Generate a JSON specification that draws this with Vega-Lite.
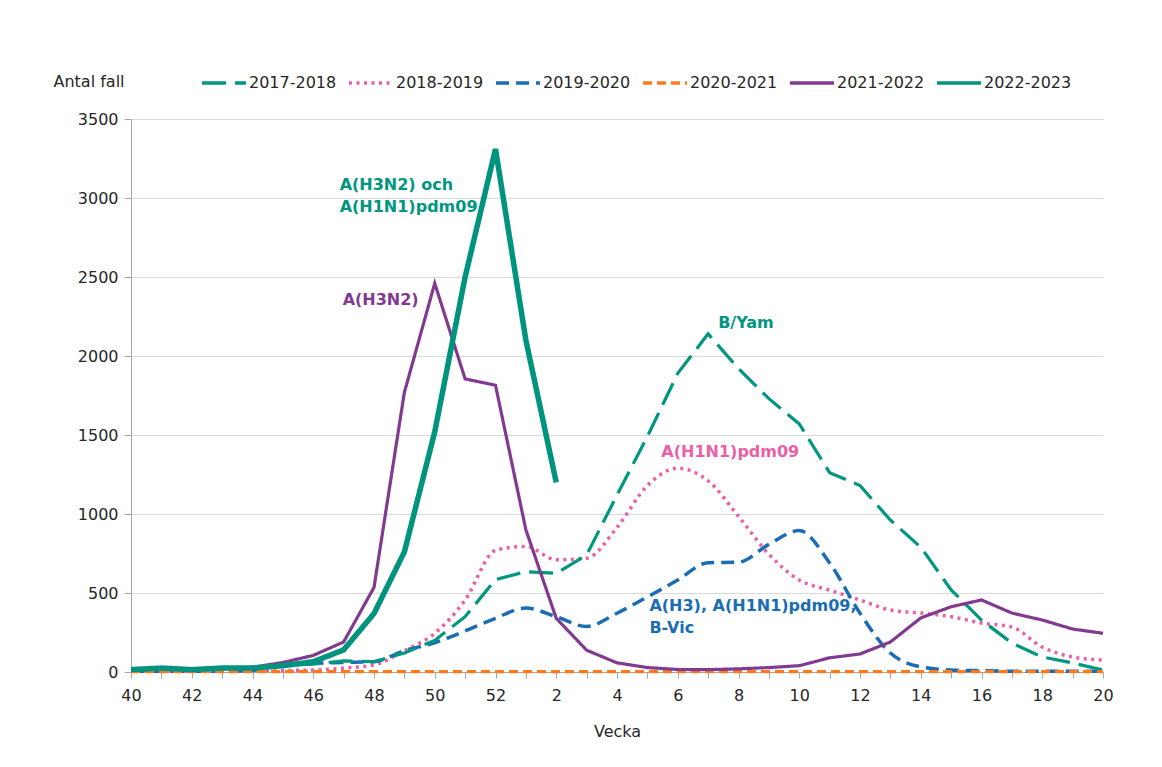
{
  "$schema": "https://vega.github.io/schema/vega-lite/v6.json",
  "width": 972,
  "height": 553,
  "autosize": "none",
  "padding": {"left": 131, "top": 119, "right": 59, "bottom": 95},
  "background": "white",
  "config": {
    "font": "DejaVu Sans",
    "view": {"stroke": null},
    "axis": {
      "labelFont": "DejaVu Sans", "labelFontSize": 16, "labelColor": "#262626",
      "titleFont": "DejaVu Sans", "titleFontSize": 16, "titleFontWeight": "normal", "titleColor": "#262626",
      "domainColor": "#A6A6A6", "tickColor": "#A6A6A6", "gridColor": "#D9D9D9", "gridWidth": 1.2
    },
    "legend": {
      "orient": "none", "legendX": 69, "legendY": -60, "direction": "horizontal",
      "labelFont": "DejaVu Sans", "labelFontSize": 16, "labelColor": "#262626",
      "symbolSize": 1936, "labelOffset": 1, "columnPadding": 5, "symbolType": "stroke", "symbolStrokeWidth": 3.5
    }
  },
  "datasets": {
    "fall": [
      {"vecka": 40, "2017-2018": 10, "2018-2019": 5, "2019-2020": 5, "2020-2021": 2, "2021-2022": 10, "2022-2023": 15},
      {"vecka": 41, "2017-2018": 15, "2018-2019": 5, "2019-2020": 5, "2020-2021": 2, "2021-2022": 20, "2022-2023": 25},
      {"vecka": 42, "2017-2018": 15, "2018-2019": 5, "2019-2020": 5, "2020-2021": 2, "2021-2022": 15, "2022-2023": 15},
      {"vecka": 43, "2017-2018": 20, "2018-2019": 5, "2019-2020": 5, "2020-2021": 2, "2021-2022": 20, "2022-2023": 25},
      {"vecka": 44, "2017-2018": 20, "2018-2019": 10, "2019-2020": 10, "2020-2021": 2, "2021-2022": 30, "2022-2023": 25},
      {"vecka": 45, "2017-2018": 40, "2018-2019": 10, "2019-2020": 40, "2020-2021": 2, "2021-2022": 60, "2022-2023": 40},
      {"vecka": 46, "2017-2018": 50, "2018-2019": 12, "2019-2020": 55, "2020-2021": 2, "2021-2022": 105, "2022-2023": 65},
      {"vecka": 47, "2017-2018": 70, "2018-2019": 25, "2019-2020": 60, "2020-2021": 2, "2021-2022": 190, "2022-2023": 140},
      {"vecka": 48, "2017-2018": 65, "2018-2019": 45, "2019-2020": 65, "2020-2021": 2, "2021-2022": 535, "2022-2023": 370},
      {"vecka": 49, "2017-2018": 120, "2018-2019": 135, "2019-2020": 135, "2020-2021": 2, "2021-2022": 1770, "2022-2023": 760},
      {"vecka": 50, "2017-2018": 200, "2018-2019": 245, "2019-2020": 185, "2020-2021": 2, "2021-2022": 2460, "2022-2023": 1520},
      {"vecka": 51, "2017-2018": 350, "2018-2019": 455, "2019-2020": 260, "2020-2021": 2, "2021-2022": 1855, "2022-2023": 2500},
      {"vecka": 52, "2017-2018": 585, "2018-2019": 770, "2019-2020": 340, "2020-2021": 2, "2021-2022": 1815, "2022-2023": 3310},
      {"vecka": 1, "2017-2018": 635, "2018-2019": 795, "2019-2020": 405, "2020-2021": 2, "2021-2022": 900, "2022-2023": 2100},
      {"vecka": 2, "2017-2018": 625, "2018-2019": 710, "2019-2020": 350, "2020-2021": 2, "2021-2022": 340, "2022-2023": 1200},
      {"vecka": 3, "2017-2018": 740, "2018-2019": 720, "2019-2020": 288, "2020-2021": 2, "2021-2022": 138, "2022-2023": null},
      {"vecka": 4, "2017-2018": 1120, "2018-2019": 915, "2019-2020": 372, "2020-2021": 2, "2021-2022": 58, "2022-2023": null},
      {"vecka": 5, "2017-2018": 1490, "2018-2019": 1180, "2019-2020": 475, "2020-2021": 2, "2021-2022": 28, "2022-2023": null},
      {"vecka": 6, "2017-2018": 1890, "2018-2019": 1290, "2019-2020": 582, "2020-2021": 2, "2021-2022": 16, "2022-2023": null},
      {"vecka": 7, "2017-2018": 2140, "2018-2019": 1210, "2019-2020": 692, "2020-2021": 2, "2021-2022": 15, "2022-2023": null},
      {"vecka": 8, "2017-2018": 1920, "2018-2019": 985, "2019-2020": 695, "2020-2021": 2, "2021-2022": 20, "2022-2023": null},
      {"vecka": 9, "2017-2018": 1730, "2018-2019": 745, "2019-2020": 808, "2020-2021": 2, "2021-2022": 28, "2022-2023": null},
      {"vecka": 10, "2017-2018": 1570, "2018-2019": 582, "2019-2020": 895, "2020-2021": 2, "2021-2022": 40, "2022-2023": null},
      {"vecka": 11, "2017-2018": 1262, "2018-2019": 518, "2019-2020": 690, "2020-2021": 2, "2021-2022": 90, "2022-2023": null},
      {"vecka": 12, "2017-2018": 1180, "2018-2019": 456, "2019-2020": 372, "2020-2021": 2, "2021-2022": 114, "2022-2023": null},
      {"vecka": 13, "2017-2018": 962, "2018-2019": 392, "2019-2020": 120, "2020-2021": 2, "2021-2022": 190, "2022-2023": null},
      {"vecka": 14, "2017-2018": 790, "2018-2019": 373, "2019-2020": 32, "2020-2021": 2, "2021-2022": 342, "2022-2023": null},
      {"vecka": 15, "2017-2018": 520, "2018-2019": 350, "2019-2020": 13, "2020-2021": 2, "2021-2022": 413, "2022-2023": null},
      {"vecka": 16, "2017-2018": 329, "2018-2019": 310, "2019-2020": 8, "2020-2021": 2, "2021-2022": 456, "2022-2023": null},
      {"vecka": 17, "2017-2018": 183, "2018-2019": 285, "2019-2020": 5, "2020-2021": 2, "2021-2022": 373, "2022-2023": null},
      {"vecka": 18, "2017-2018": 95, "2018-2019": 158, "2019-2020": 5, "2020-2021": 2, "2021-2022": 329, "2022-2023": null},
      {"vecka": 19, "2017-2018": 57, "2018-2019": 95, "2019-2020": 5, "2020-2021": 2, "2021-2022": 272, "2022-2023": null},
      {"vecka": 20, "2017-2018": 13, "2018-2019": 76, "2019-2020": 5, "2020-2021": 2, "2021-2022": 245, "2022-2023": null}
    ]
  },
  "layer": [
    {
      "data": {"name": "fall"},
      "transform": [
        {"fold": ["2017-2018", "2018-2019", "2019-2020", "2020-2021", "2021-2022", "2022-2023"], "as": ["sasong", "antal"]},
        {"filter": "datum.sasong === '2018-2019' || datum.sasong === '2019-2020'"}
      ],
      "mark": {"type": "line", "interpolate": "monotone", "strokeWidth": 3.5},
      "encoding": {
        "x": {
          "field": "vecka", "type": "ordinal",
          "scale": {"type": "point", "padding": 0, "domain": [40,41,42,43,44,45,46,47,48,49,50,51,52,1,2,3,4,5,6,7,8,9,10,11,12,13,14,15,16,17,18,19,20]},
          "axis": {"title": "Vecka", "grid": false, "tickSize": 6, "labelPadding": 9, "labelAngle": 0, "titlePadding": 20, "labelOverlap": false, "labelExpr": "datum.value % 2 == 0 ? datum.label : ''"}
        },
        "y": {
          "field": "antal", "type": "quantitative",
          "scale": {"domain": [0, 3500], "nice": false},
          "axis": {"title": "Antal fall", "format": "d", "values": [0,500,1000,1500,2000,2500,3000,3500], "grid": true, "tickSize": 7, "labelPadding": 6, "titleAngle": 0, "titleAlign": "left", "titleBaseline": "middle", "titleX": -78, "titleY": -38}
        },
        "color": {
          "field": "sasong", "type": "nominal", "title": null,
          "scale": {"domain": ["2017-2018", "2018-2019", "2019-2020", "2020-2021", "2021-2022", "2022-2023"], "range": ["#00967F", "#EC5FA6", "#1A6DB5", "#FF7A1F", "#823A91", "#00947F"]}
        },
        "strokeDash": {
          "field": "sasong", "type": "nominal", "title": null,
          "scale": {"domain": ["2017-2018", "2018-2019", "2019-2020", "2020-2021", "2021-2022", "2022-2023"], "range": [[24, 9], [3, 4.5], [13, 7], [9, 5], [1, 0], [1, 0]]}
        }
      }
    },
    {
      "data": {"name": "fall"},
      "transform": [
        {"fold": ["2017-2018", "2020-2021", "2021-2022"], "as": ["sasong", "antal"]}
      ],
      "mark": {"type": "line", "interpolate": "linear", "strokeWidth": 3.2},
      "encoding": {
        "x": {"field": "vecka", "type": "ordinal"},
        "y": {"field": "antal", "type": "quantitative"},
        "color": {"field": "sasong", "type": "nominal", "title": null},
        "strokeDash": {"field": "sasong", "type": "nominal", "title": null}
      }
    },
    {
      "data": {"name": "fall"},
      "transform": [
        {"fold": ["2022-2023"], "as": ["sasong", "antal"]}
      ],
      "mark": {"type": "line", "interpolate": "linear", "strokeWidth": 5.5},
      "encoding": {
        "x": {"field": "vecka", "type": "ordinal"},
        "y": {"field": "antal", "type": "quantitative"},
        "color": {"field": "sasong", "type": "nominal", "title": null},
        "strokeDash": {"field": "sasong", "type": "nominal", "title": null}
      }
    },
    {
      "data": {"values": [{"vecka": 47, "antal": 3082, "text": "A(H3N2) och"}, {"vecka": 47, "antal": 2943, "text": "A(H1N1)pdm09"}]},
      "mark": {"type": "text", "align": "left", "baseline": "middle", "dx": -4, "font": "DejaVu Sans", "fontSize": 16, "fontWeight": "bold", "color": "#00967F"},
      "encoding": {"x": {"field": "vecka", "type": "ordinal"}, "y": {"field": "antal", "type": "quantitative"}, "text": {"field": "text"}}
    },
    {
      "data": {"values": [{"vecka": 47, "antal": 2354, "text": "A(H3N2)"}]},
      "mark": {"type": "text", "align": "left", "baseline": "middle", "dx": -1, "font": "DejaVu Sans", "fontSize": 16, "fontWeight": "bold", "color": "#823A91"},
      "encoding": {"x": {"field": "vecka", "type": "ordinal"}, "y": {"field": "antal", "type": "quantitative"}, "text": {"field": "text"}}
    },
    {
      "data": {"values": [{"vecka": 7, "antal": 2209, "text": "B/Yam"}]},
      "mark": {"type": "text", "align": "left", "baseline": "middle", "dx": 10, "font": "DejaVu Sans", "fontSize": 16, "fontWeight": "bold", "color": "#00967F"},
      "encoding": {"x": {"field": "vecka", "type": "ordinal"}, "y": {"field": "antal", "type": "quantitative"}, "text": {"field": "text"}}
    },
    {
      "data": {"values": [{"vecka": 10, "antal": 1392, "text": "A(H1N1)pdm09"}]},
      "mark": {"type": "text", "align": "right", "baseline": "middle", "font": "DejaVu Sans", "fontSize": 16, "fontWeight": "bold", "color": "#EC5FA6"},
      "encoding": {"x": {"field": "vecka", "type": "ordinal"}, "y": {"field": "antal", "type": "quantitative"}, "text": {"field": "text"}}
    },
    {
      "data": {"values": [{"vecka": 5, "antal": 418, "text": "A(H3), A(H1N1)pdm09,"}, {"vecka": 5, "antal": 278, "text": "B-Vic"}]},
      "mark": {"type": "text", "align": "left", "baseline": "middle", "dx": 2, "font": "DejaVu Sans", "fontSize": 16, "fontWeight": "bold", "color": "#1A6DB5"},
      "encoding": {"x": {"field": "vecka", "type": "ordinal"}, "y": {"field": "antal", "type": "quantitative"}, "text": {"field": "text"}}
    }
  ]
}
